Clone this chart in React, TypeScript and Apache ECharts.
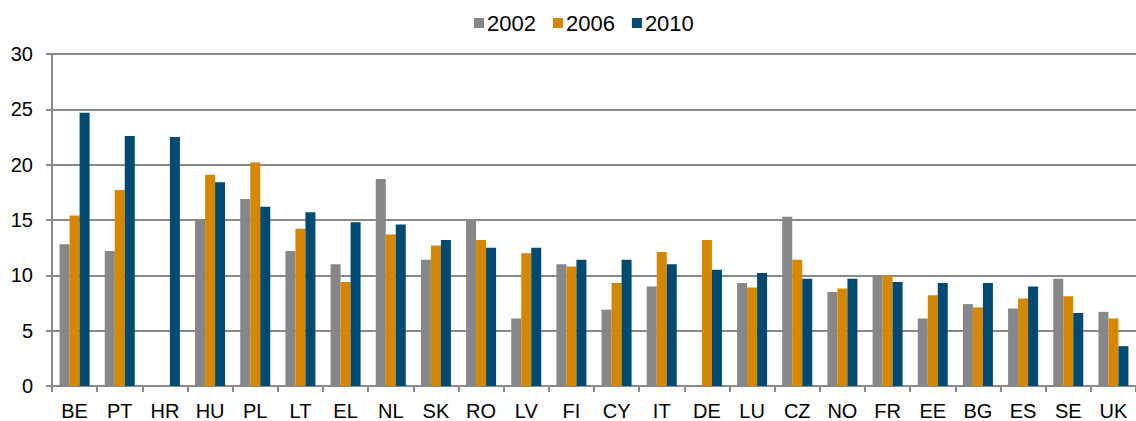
import React, { useEffect, useRef } from "react";
import * as echarts from "echarts";

const categories = ["BE","PT","HR","HU","PL","LT","EL","NL","SK","RO","LV","FI","CY","IT","DE","LU","CZ","NO","FR","EE","BG","ES","SE","UK"];
const values2002 = [12.8,12.2,null,15.1,16.9,12.2,11.0,18.7,11.4,14.9,6.1,11.0,6.9,9.0,null,9.3,15.3,8.5,10.0,6.1,7.4,7.0,9.7,6.7];
const values2006 = [15.4,17.7,null,19.1,20.2,14.2,9.4,13.7,12.7,13.2,12.0,10.8,9.3,12.1,13.2,8.9,11.4,8.8,10.0,8.2,7.1,7.9,8.1,6.1];
const values2010 = [24.7,22.6,22.5,18.4,16.2,15.7,14.8,14.6,13.2,12.5,12.5,11.4,11.4,11.0,10.5,10.2,9.7,9.7,9.4,9.3,9.3,9.0,6.6,3.6];
const seriesNames = ["2002", "2006", "2010"];
const colors = ["#87868b", "#d58700", "#004a72"];

export default function App() {
  const ref = useRef<HTMLDivElement>(null);
  useEffect(() => {
    document.body.style.margin = "0";
    const chart = echarts.init(ref.current!, null, { renderer: "svg" });
    const font = "'Liberation Sans', Arial, sans-serif";
    const data = [values2002, values2006, values2010];
    chart.setOption({
      animation: false,
      textStyle: { fontFamily: font },
      legend: {
        top: 7,
        left: 469,
        itemWidth: 10,
        itemHeight: 10,
        itemGap: 17,
        icon: "rect",
        textStyle: { fontSize: 22, color: "#000", fontFamily: font, padding: [0, 0, 0, -2] },
        data: seriesNames,
      },
      grid: { left: 52, right: 0, top: 54, bottom: 34, containLabel: false },
      xAxis: {
        type: "category",
        data: categories,
        axisLine: { lineStyle: { color: "#8a8a8a", width: 2 } },
        axisTick: { show: true, length: 6, lineStyle: { color: "#8a8a8a", width: 2 } },
        axisLabel: { fontSize: 20, color: "#000", margin: 15, fontFamily: font },
      },
      yAxis: {
        type: "value",
        min: 0,
        max: 30,
        interval: 5,
        axisLine: { show: true, lineStyle: { color: "#8a8a8a", width: 2 } },
        axisTick: { show: true, length: 6, lineStyle: { color: "#8a8a8a", width: 2 } },
        axisLabel: { fontSize: 20, color: "#000", margin: 19, fontFamily: font },
        splitLine: { lineStyle: { color: "#8a8a8a", width: 2 } },
      },
      series: seriesNames.map((name, i) => ({
        name,
        type: "bar",
        data: data[i],
        barWidth: 10,
        barGap: "0%",
        itemStyle: { color: colors[i] },
      })),
    });
    return () => chart.dispose();
  }, []);
  return <div ref={ref} style={{ width: 1136, height: 421 }} />;
}
